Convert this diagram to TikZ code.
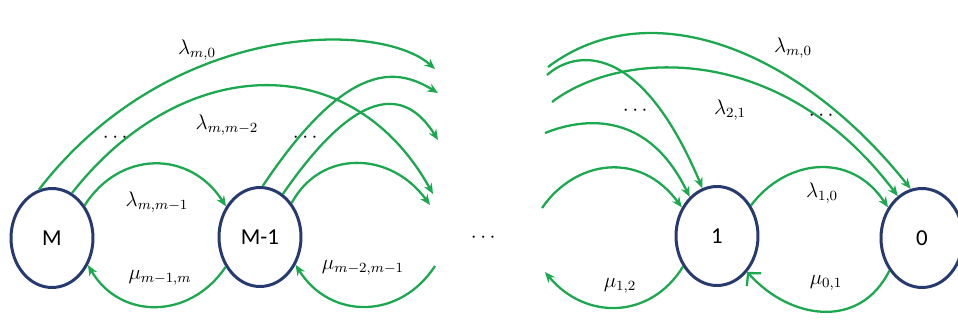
\documentclass[tikz,border=0pt]{standalone}
\usepackage{amsmath}
\usepackage{fontspec}
\newfontfamily\calibri{Carlito}
\usepackage{xcolor}
\usetikzlibrary{arrows.meta, positioning, shapes.geometric}

\definecolor{trgreen}{RGB}{28,168,78}
\definecolor{stblue}{RGB}{38,58,112}

\begin{document}
\begin{tikzpicture}[
  x=0.02cm, y=-0.02cm,
  state/.style={draw=stblue, ellipse, line width=1.7pt, minimum width=1.64cm,
                minimum height=1.98cm, inner sep=0pt, font=\calibri\fontsize{13}{15}\selectfont},
  arr/.style={-{Stealth[length=6pt, width=5pt]}, draw=trgreen, line width=1.3pt},
  barb/.style={-{Straight Barb[length=5pt, width=11pt]}, draw=trgreen, line width=1.3pt},
  lab/.style={font=\large},
  dots/.style={font=\large}
]
  \useasboundingbox (0,0) rectangle (958,322);

  % states
  \node[state] (sm)  at (52,238)  {M};
  \node[state] (sm1) at (260,237) {M-1};
  \node[state] (s1)  at (717,236) {1};
  \node[state] (s0)  at (922,238) {0};
  \node[dots] (mid) at (485,238) {$\cdots$};

  % free ends on the left half
  \coordinate (e1) at (435,69);
  \coordinate (e2) at (438,93);
  \coordinate (e3) at (438,140);
  \coordinate (e4) at (433,194);
  \coordinate (e5) at (430,205);
  \coordinate (l6) at (435,266);
  % free ends on the right half
  \coordinate (r1) at (548,67);
  \coordinate (r2) at (547,75);
  \coordinate (r3) at (552,102);
  \coordinate (r4) at (545,133);
  \coordinate (r5) at (542,208);
  \coordinate (r6) at (545,272);

  % transitions out of M and M-1
  \draw[arr] (sm.105) .. controls (170,20) and (380,20) .. (e1);
  \draw[arr] (sm.66) .. controls (180,55) and (350,45) .. (e4);
  \draw[arr] (sm.45) .. controls (120,150) and (190,150) .. (sm1.138);
  \draw[arr] (sm1.87) .. controls (350,55) and (400,70) .. (e2);
  \draw[arr] (sm1.62) .. controls (365,75) and (410,95) .. (e3);
  \draw[arr] (sm1.47) .. controls (320,150) and (390,150) .. (e5);
  \draw[arr] (sm1.-139) .. controls (190,320) and (120,320) .. (sm.-37);
  \draw[arr] (l6) .. controls (400,320) and (330,320) .. (sm1.-38);

  % transitions into 1 and 0
  \draw[arr] (r1) .. controls (650,-10) and (800,50) .. (s0.103);
  \draw[arr] (r2) .. controls (575,50) and (640,40) .. (s1.107);
  \draw[arr] (r3) .. controls (620,50) and (780,40) .. (s0.120);
  \draw[arr] (r4) .. controls (590,115) and (650,115) .. (s1.125);
  \draw[arr] (r5) .. controls (575,160) and (640,150) .. (s1.141);
  \draw[arr] (s1.42) .. controls (785,160) and (850,150) .. (s0.138);
  \draw[arr] (s1.-138) .. controls (650,320) and (585,320) .. (r6);
  \draw[barb] (s0.-135) .. controls (860,330) and (790,320) .. (s1.-50);

  % rates
  \node[lab] (lm0)   at (197,50)  {$\lambda_{m,0}$};
  \node[dots] (d1)   at (117,138) {$\cdots$};
  \node[lab] (lmm2)  at (227,125) {$\lambda_{m,m-2}$};
  \node[dots] (d2)   at (307,138) {$\cdots$};
  \node[lab] (lmm1)  at (157,202) {$\lambda_{m,m-1}$};
  \node[lab] (mum1m) at (160,278) {$\mu_{m-1,m}$};
  \node[lab] (mum2)  at (363,268) {$\mu_{m-2,m-1}$};
  \node[lab] (lm0r)  at (793,48)  {$\lambda_{m,0}$};
  \node[dots] (d3)   at (637,111) {$\cdots$};
  \node[lab] (l21)   at (730,110) {$\lambda_{2,1}$};
  \node[dots] (d4)   at (823,116) {$\cdots$};
  \node[lab] (l10)   at (822,193) {$\lambda_{1,0}$};
  \node[lab] (mu12)  at (620,286) {$\mu_{1,2}$};
  \node[lab] (mu01)  at (826,283) {$\mu_{0,1}$};
\end{tikzpicture}
\end{document}
